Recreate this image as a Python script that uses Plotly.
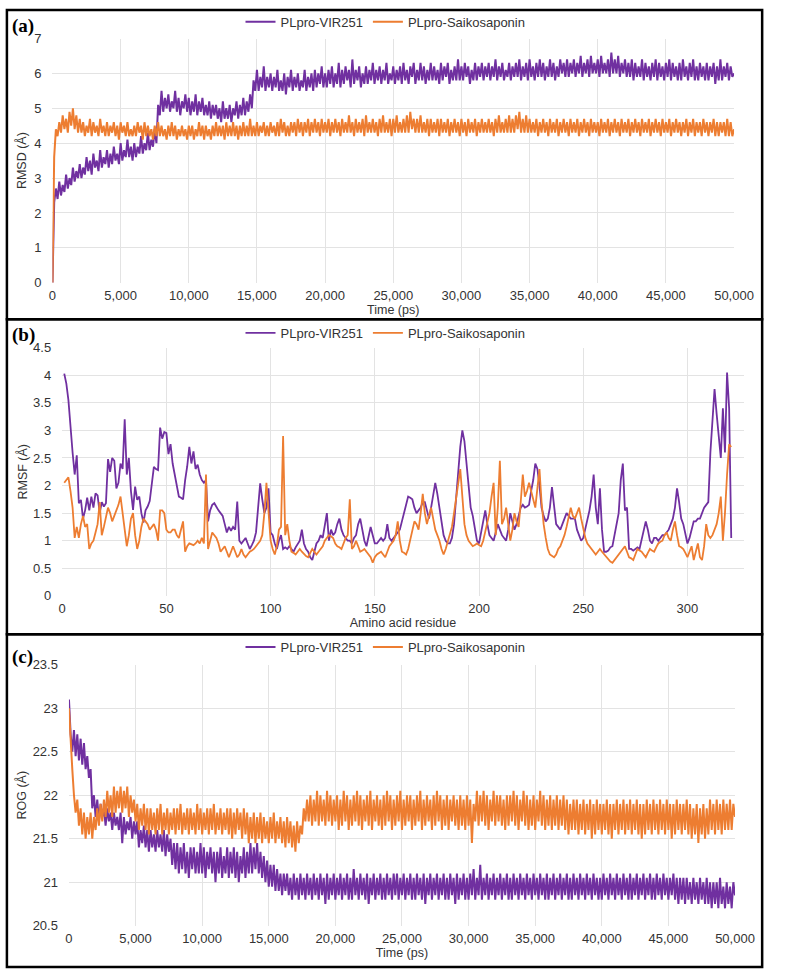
import plotly.graph_objects as go

PURPLE = "#7030A0"
ORANGE = "#ED7D31"

# ---------------- data ----------------
time_ps = list(range(0, 50001, 125))

rmsd_vir251 = [
    0, 2.3, 2.7, 2.4, 2.9, 2.5, 2.8, 2.6, 3.1, 2.7, 3.0, 2.8, 3.3, 2.9, 3.2, 3.0,
    3.4, 3.0, 3.3, 3.1, 3.6, 3.2, 3.5, 3.1, 3.7, 3.3, 3.5, 3.2, 3.8, 3.3, 3.6, 3.4,
    3.8, 3.3, 3.7, 3.4, 3.9, 3.5, 3.7, 3.4, 4.0, 3.5, 3.8, 3.6, 4.1, 3.6, 3.9, 3.5,
    4.0, 3.6, 3.9, 3.7, 4.2, 3.7, 4.0, 3.8, 4.3, 3.8, 4.1, 3.9, 4.4, 4.0, 5.1, 4.8,
    5.5, 4.9, 5.3, 5.0, 5.4, 4.9, 5.2, 5.0, 5.5, 4.9, 5.3, 4.8, 5.2, 5.0, 5.4, 4.9,
    5.3, 4.8, 5.2, 4.9, 5.4, 4.8, 5.2, 4.9, 5.3, 4.8, 5.1, 4.8, 5.2, 4.7, 5.1, 4.8,
    5.1, 4.7, 5.0, 4.6, 5.2, 4.7, 5.0, 4.7, 5.1, 4.6, 5.0, 4.8, 5.2, 4.7, 5.1, 4.8,
    5.3, 4.8, 5.2, 4.9, 5.4, 5.0, 5.8, 5.5, 6.1, 5.5, 5.9, 5.6, 6.2, 5.5, 5.9, 5.6,
    6.0, 5.5, 5.9, 5.6, 6.1, 5.5, 5.8, 5.5, 6.0, 5.4, 5.9, 5.6, 6.1, 5.5, 5.9, 5.6,
    6.0, 5.5, 5.8, 5.6, 6.1, 5.5, 5.9, 5.6, 6.0, 5.5, 6.1, 5.6, 6.0, 5.7, 6.2, 5.6,
    6.0, 5.6, 6.1, 5.7, 6.2, 5.6, 6.0, 5.7, 6.3, 5.6, 6.1, 5.7, 6.2, 5.8, 6.1, 5.6,
    6.4, 5.7, 6.1, 5.8, 6.2, 5.6, 6.0, 5.7, 6.2, 5.7, 6.1, 5.8, 6.3, 5.7, 6.1, 5.8,
    6.2, 5.7, 6.1, 5.8, 6.3, 5.7, 6.0, 5.8, 6.2, 5.7, 6.1, 5.8, 6.2, 5.7, 6.3, 5.8,
    6.1, 5.7, 6.2, 5.9, 6.3, 5.7, 6.1, 5.8, 6.3, 5.8, 6.2, 5.7, 6.1, 5.8, 6.3, 5.8,
    6.2, 5.8, 6.1, 5.7, 6.3, 5.8, 6.2, 5.9, 6.3, 5.7, 6.1, 5.8, 6.2, 5.8, 6.4, 5.8,
    6.2, 5.8, 6.3, 5.9, 6.2, 5.7, 6.1, 5.8, 6.3, 5.8, 6.2, 5.9, 6.3, 5.8, 6.2, 5.9,
    6.3, 5.8, 6.2, 5.9, 6.4, 5.8, 6.2, 5.9, 6.3, 5.8, 6.1, 5.9, 6.3, 5.8, 6.2, 5.9,
    6.3, 5.9, 6.4, 5.8, 6.2, 5.9, 6.3, 5.8, 6.4, 5.9, 6.2, 5.8, 6.3, 5.9, 6.4, 5.9,
    6.3, 5.8, 6.2, 5.9, 6.4, 5.9, 6.3, 5.8, 6.2, 5.9, 6.4, 6.0, 6.3, 5.9, 6.4, 5.9,
    6.3, 6.0, 6.4, 5.9, 6.3, 6.0, 6.5, 5.9, 6.3, 6.0, 6.4, 5.9, 6.5, 6.0, 6.3, 6.0,
    6.4, 5.9, 6.5, 6.0, 6.3, 6.0, 6.4, 5.9, 6.6, 6.0, 6.4, 6.0, 6.5, 5.9, 6.3, 6.0,
    6.4, 5.9, 6.3, 5.9, 6.4, 5.8, 6.3, 5.9, 6.2, 5.9, 6.4, 5.8, 6.3, 5.9, 6.2, 5.8,
    6.3, 5.9, 6.4, 5.8, 6.3, 5.9, 6.2, 5.8, 6.3, 5.9, 6.4, 5.8, 6.3, 5.9, 6.2, 5.8,
    6.3, 5.8, 6.4, 5.9, 6.2, 5.8, 6.3, 5.9, 6.4, 5.8, 6.2, 5.8, 6.3, 5.9, 6.2, 5.8,
    6.3, 5.8, 6.2, 5.9, 6.3, 5.7, 6.2, 5.8, 6.4, 5.8, 6.2, 5.9, 6.3, 5.8, 6.2, 5.9,
    6.0,
]

rmsd_saiko = [
    0, 3.6, 4.4, 4.2, 4.6, 4.3, 4.8, 4.4, 4.7, 4.3, 4.9, 4.5, 5.0, 4.4, 4.8, 4.3,
    4.7, 4.3, 4.6, 4.2, 4.5, 4.3, 4.7, 4.2, 4.6, 4.3, 4.5, 4.2, 4.7, 4.3, 4.5, 4.2,
    4.6, 4.2, 4.5, 4.3, 4.6, 4.2, 4.5, 4.1, 4.6, 4.3, 4.5, 4.2, 4.6, 4.2, 4.4, 4.2,
    4.5, 4.2, 4.6, 4.3, 4.5, 4.1, 4.6, 4.2, 4.5, 4.2, 4.4, 4.1, 4.5, 4.2, 4.6, 4.2,
    4.5, 4.2, 4.4, 4.1, 4.5, 4.2, 4.6, 4.2, 4.5, 4.1, 4.4, 4.2, 4.5, 4.2, 4.4, 4.1,
    4.5, 4.2, 4.5, 4.1, 4.4, 4.2, 4.6, 4.2, 4.5, 4.1, 4.5, 4.2, 4.4, 4.1, 4.5, 4.2,
    4.6, 4.2, 4.5, 4.2, 4.5, 4.1, 4.6, 4.2, 4.5, 4.2, 4.6, 4.2, 4.5, 4.1, 4.5, 4.2,
    4.6, 4.2, 4.5, 4.2, 4.7, 4.2, 4.5, 4.2, 4.6, 4.2, 4.5, 4.3, 4.6, 4.2, 4.5, 4.2,
    4.6, 4.3, 4.5, 4.2, 4.6, 4.2, 4.7, 4.3, 4.6, 4.2, 4.5, 4.2, 4.6, 4.3, 4.6, 4.2,
    4.7, 4.3, 4.6, 4.2, 4.6, 4.3, 4.7, 4.2, 4.6, 4.3, 4.7, 4.3, 4.6, 4.2, 4.7, 4.3,
    4.6, 4.3, 4.7, 4.2, 4.6, 4.3, 4.7, 4.3, 4.6, 4.2, 4.7, 4.3, 4.6, 4.3, 4.8, 4.3,
    4.6, 4.2, 4.7, 4.3, 4.6, 4.3, 4.7, 4.2, 4.8, 4.3, 4.6, 4.3, 4.7, 4.3, 4.6, 4.2,
    4.7, 4.3, 4.8, 4.3, 4.6, 4.3, 4.7, 4.2, 4.7, 4.3, 4.8, 4.3, 4.6, 4.3, 4.7, 4.3,
    4.8, 4.3, 4.9, 4.4, 4.7, 4.3, 4.7, 4.3, 4.8, 4.3, 4.6, 4.3, 4.7, 4.2, 4.7, 4.3,
    4.6, 4.3, 4.7, 4.2, 4.7, 4.3, 4.6, 4.3, 4.7, 4.2, 4.6, 4.3, 4.7, 4.3, 4.6, 4.2,
    4.7, 4.3, 4.6, 4.2, 4.7, 4.3, 4.6, 4.3, 4.7, 4.2, 4.6, 4.3, 4.7, 4.3, 4.6, 4.3,
    4.7, 4.3, 4.6, 4.2, 4.7, 4.3, 4.8, 4.3, 4.6, 4.3, 4.7, 4.3, 4.8, 4.3, 4.7, 4.3,
    4.8, 4.4, 4.9, 4.3, 4.7, 4.3, 4.8, 4.3, 4.7, 4.3, 4.6, 4.3, 4.7, 4.2, 4.6, 4.3,
    4.7, 4.3, 4.6, 4.2, 4.7, 4.3, 4.6, 4.3, 4.7, 4.2, 4.6, 4.3, 4.7, 4.3, 4.6, 4.2,
    4.7, 4.3, 4.6, 4.3, 4.7, 4.2, 4.6, 4.3, 4.7, 4.3, 4.6, 4.2, 4.7, 4.3, 4.6, 4.3,
    4.6, 4.2, 4.7, 4.3, 4.6, 4.3, 4.7, 4.2, 4.6, 4.3, 4.7, 4.3, 4.6, 4.2, 4.7, 4.3,
    4.6, 4.3, 4.7, 4.2, 4.6, 4.3, 4.7, 4.3, 4.6, 4.2, 4.7, 4.3, 4.6, 4.3, 4.7, 4.2,
    4.6, 4.3, 4.7, 4.3, 4.6, 4.2, 4.7, 4.3, 4.6, 4.3, 4.7, 4.2, 4.6, 4.3, 4.7, 4.3,
    4.6, 4.2, 4.6, 4.3, 4.7, 4.2, 4.6, 4.3, 4.7, 4.2, 4.6, 4.3, 4.6, 4.2, 4.7, 4.3,
    4.6, 4.2, 4.6, 4.3, 4.7, 4.2, 4.6, 4.2, 4.6, 4.3, 4.6, 4.2, 4.7, 4.2, 4.6, 4.2,
    4.4,
]

residue = list(range(1, 322))

rmsf_vir251 = [
    4.03, 3.85, 3.55, 3.0, 2.6, 2.2, 2.55, 1.68, 1.74, 1.4,
    1.55, 1.78, 1.55, 1.8, 1.6, 1.86, 1.82, 1.5, 1.7, 1.62,
    1.68, 2.48, 2.25, 2.5, 2.45, 1.95, 2.05, 2.4, 2.3, 3.2,
    2.2, 2.5, 1.9, 1.56, 1.98, 1.74, 1.8, 1.5, 1.33, 1.55,
    1.62, 1.72, 2.0, 2.34, 2.3, 2.28, 3.05, 2.85, 2.97, 2.95,
    2.57, 2.75, 2.4, 2.22, 2.0, 1.8, 1.78, 1.75, 2.1, 2.35,
    2.7, 2.4, 2.62, 2.3, 2.38, 2.2, 2.1, 2.05, 2.1, 1.35,
    1.55, 1.65, 1.68, 1.6, 1.55, 1.5, 1.45, 1.3, 1.15, 1.25,
    1.18, 1.25, 1.2, 1.71, 1.0, 0.95, 1.0, 1.05, 0.95, 0.85,
    0.92, 1.0, 1.15, 1.6, 2.04, 1.75, 1.5, 1.6, 1.95, 1.15,
    1.1, 0.95, 0.85, 1.0, 1.1, 0.85, 0.88, 0.85, 0.9, 0.85,
    0.8, 0.88, 0.95, 1.0, 1.2, 0.95, 0.85, 0.8, 0.7, 0.65,
    0.8, 0.95, 1.0, 1.1, 1.05, 1.25, 1.5, 1.0, 1.2, 1.1,
    1.15, 1.3, 1.4, 1.2, 1.1, 1.05, 1.0, 1.0, 0.95, 1.05,
    1.1, 1.3, 1.4, 1.2, 1.0, 0.9, 1.05, 1.25, 1.1, 0.95,
    0.95, 1.0, 1.05, 1.0, 1.05, 1.3, 1.05, 1.0, 1.05, 1.1,
    1.15, 1.2, 1.35, 1.5, 1.7, 1.8, 1.78, 1.75, 1.6, 1.5,
    1.55, 1.6, 1.7, 1.7, 1.55, 1.4, 1.6, 1.8, 2.05, 1.85,
    1.6, 1.3, 1.1, 1.0, 0.95, 0.95, 1.05, 1.3, 1.8, 2.3,
    2.7, 3.0, 2.8, 2.4, 2.0, 1.6, 1.45, 1.2, 1.0, 0.95,
    1.15, 1.4, 1.55, 1.3, 1.1, 1.05, 1.0, 1.15, 1.3, 1.2,
    1.1, 1.05, 1.0, 1.2, 1.5, 1.35, 1.2, 1.3, 1.45, 1.6,
    1.65, 1.6, 1.62, 1.65, 1.9, 2.1, 2.4, 2.3, 2.0, 1.6,
    1.45, 1.35, 1.4, 1.6, 1.97, 1.6, 1.3, 1.25, 1.2, 1.3,
    1.4, 1.5, 1.45, 1.4, 1.4, 1.4, 1.2, 1.1, 1.0, 1.05,
    1.2, 1.35, 1.55, 1.8, 2.2, 1.6, 1.3, 1.95, 1.2, 0.8,
    0.8, 0.82, 0.88, 0.9, 1.1, 1.3, 1.5, 2.1, 2.4, 1.55,
    1.6, 0.85, 0.85, 0.82, 0.85, 0.88, 0.85, 1.0, 1.15, 1.35,
    1.2, 1.0, 0.95, 1.05, 1.05, 1.0, 1.05, 1.1, 1.1, 1.15,
    1.2, 1.3, 1.4, 1.6, 1.95, 1.7, 1.4, 1.3, 1.1, 0.95,
    1.05, 1.2, 1.35, 1.35, 1.4, 1.4, 1.5, 1.6, 1.65, 1.7,
    2.6, 3.2, 3.75, 3.3, 2.9, 2.5, 3.4, 2.6, 4.05, 3.4,
    1.05,
]

rmsf_saiko = [
    2.05, 2.1, 2.15, 1.9, 1.6, 1.05, 1.25, 1.05, 1.3, 1.45,
    1.25, 1.3, 0.85, 0.95, 1.0, 1.15, 1.3, 1.7, 1.1, 1.25,
    1.4, 1.6, 1.5, 1.35, 1.45, 1.55, 1.65, 1.8, 1.5, 1.2,
    0.9, 1.1, 1.4, 1.5, 1.1, 0.85, 1.0, 1.25, 1.4, 1.35,
    1.3, 1.2, 1.25, 1.3, 1.2, 1.0, 1.55, 1.55, 1.5, 1.2,
    1.15, 1.15, 1.2, 1.2, 1.1, 1.05, 1.2, 1.35, 0.8, 0.9,
    0.95, 0.93, 0.92, 0.95, 1.0, 0.95, 1.05, 0.95, 2.2, 0.85,
    1.0, 1.15, 1.1, 1.05, 0.95, 0.8, 0.85, 0.9, 0.8, 0.7,
    0.8, 0.9, 0.8, 0.7, 0.75, 0.85, 0.75, 0.7, 0.75, 0.8,
    0.82, 0.85, 0.9, 0.95, 1.0, 1.1, 1.5, 2.05, 1.5, 1.0,
    0.85, 0.75, 0.9, 1.2, 1.25, 2.9, 1.1, 1.3, 1.0, 0.8,
    0.78, 0.75, 0.8, 0.85, 0.8, 0.75, 0.72, 0.7, 0.78, 0.85,
    0.8, 0.75, 0.8, 0.85, 0.9, 1.0, 1.05, 1.1, 1.08, 1.05,
    0.95, 0.9, 0.88, 0.85, 0.95, 1.05, 1.1, 1.75, 0.85, 0.9,
    1.0, 0.9, 0.8, 0.82, 0.85, 0.8, 0.75, 0.7, 0.6, 0.7,
    0.75, 0.78, 0.8, 0.75, 0.7, 0.8, 0.9, 0.95, 1.0, 1.1,
    1.35, 1.0, 0.8, 0.78, 0.75, 0.85, 1.0, 1.2, 1.35, 1.3,
    1.2, 1.5, 1.85, 1.5, 1.3, 1.45, 1.6, 1.4, 1.2, 1.1,
    1.0, 0.85, 0.75, 0.85, 1.0, 1.1, 1.25, 1.5, 1.8, 2.1,
    2.3, 1.8, 1.3, 1.1, 1.0, 0.95, 0.9, 0.92, 0.95, 0.92,
    0.9, 1.0, 1.15, 1.3, 1.5, 1.8, 2.05, 1.1, 1.6, 2.45,
    1.3, 1.4, 1.6, 1.3, 1.0, 1.2, 1.5, 1.35, 1.25, 1.7,
    2.2, 1.8, 1.9, 2.05, 1.9, 1.75, 1.6, 1.95, 2.3, 1.7,
    1.3, 1.05, 0.85, 0.75, 0.72, 0.7, 0.75, 0.85, 0.9, 1.0,
    1.1, 1.25, 1.4, 1.6, 1.45, 1.4, 1.5, 1.6, 1.4, 1.2,
    1.05, 0.95, 0.9, 0.85, 0.8, 0.75, 0.8, 0.85, 0.8, 0.75,
    0.7, 0.65, 0.62, 0.6, 0.65, 0.7, 0.75, 0.8, 0.85, 0.9,
    0.8, 0.7, 0.68, 0.65, 0.75, 0.85, 0.82, 0.8, 0.75, 0.7,
    0.78, 0.85, 0.82, 0.8, 0.88, 0.95, 0.98, 1.0, 1.1, 1.15,
    1.05, 1.0, 1.2, 1.35, 1.1, 0.9, 0.88, 0.85, 0.78, 0.7,
    0.8, 0.9, 0.65, 0.8, 0.95, 0.7, 0.65, 0.9, 1.3, 1.1,
    1.05, 1.1, 1.2, 1.3, 1.5, 1.8, 1.0, 1.5, 2.2, 2.75,
    2.7,
]

rog_vir251 = [
    23.1, 22.7, 22.5, 22.75, 22.45, 22.7, 22.4, 22.65, 22.35, 22.6, 22.3, 22.45, 22.2, 22.3, 21.85, 22.0,
    21.75, 21.95, 21.7, 21.9, 21.75, 21.85, 21.65, 21.85, 21.7, 21.8, 21.6, 21.8, 21.65, 21.75, 21.6, 21.8,
    21.45, 21.75, 21.55, 21.7, 21.6, 21.75, 21.5, 21.7, 21.55, 21.7, 21.4, 21.6, 21.45, 21.65, 21.4, 21.6,
    21.35, 21.6, 21.4, 21.55, 21.35, 21.6, 21.4, 21.55, 21.35, 21.6, 21.3, 21.55, 21.35, 21.5, 21.2, 21.45,
    21.15, 21.45, 21.1, 21.4, 21.15, 21.45, 21.1, 21.35, 21.05, 21.4, 21.15, 21.4, 21.1, 21.35, 21.1, 21.45,
    21.1, 21.4, 21.05, 21.35, 21.15, 21.4, 21.1, 21.35, 21.0, 21.35, 21.1, 21.4, 21.05, 21.3, 21.1, 21.4,
    21.05, 21.35, 21.1, 21.4, 21.05, 21.35, 21.0, 21.3, 21.1, 21.4, 21.05, 21.35, 21.1, 21.45, 21.1, 21.4,
    21.15, 21.45, 21.1, 21.35, 21.05, 21.3, 21.0, 21.25, 20.95, 21.2, 20.95, 21.2, 20.9, 21.15, 20.9, 21.1,
    20.85, 21.1, 20.9, 21.1, 20.85, 21.05, 20.8, 21.1, 20.85, 21.05, 20.8, 21.1, 20.85, 21.05, 20.8, 21.1,
    20.85, 21.05, 20.8, 21.1, 20.85, 21.05, 20.8, 21.1, 20.85, 21.05, 20.75, 21.1, 20.8, 21.05, 20.85, 21.1,
    20.8, 21.05, 20.85, 21.1, 20.8, 21.05, 20.85, 21.1, 20.8, 21.05, 20.8, 21.15, 20.85, 21.05, 20.8, 21.1,
    20.85, 21.05, 20.8, 21.1, 20.75, 21.05, 20.85, 21.1, 20.8, 21.05, 20.85, 21.1, 20.8, 21.05, 20.8, 21.1,
    20.85, 21.05, 20.8, 21.1, 20.85, 21.1, 20.8, 21.05, 20.85, 21.1, 20.8, 21.05, 20.85, 21.1, 20.8, 21.05,
    20.8, 21.1, 20.85, 21.05, 20.8, 21.1, 20.75, 21.05, 20.85, 21.1, 20.8, 21.05, 20.85, 21.1, 20.8, 21.05,
    20.85, 21.1, 20.8, 21.05, 20.8, 21.1, 20.85, 21.05, 20.75, 21.1, 20.8, 21.05, 20.85, 21.1, 20.8, 21.05,
    20.8, 21.1, 20.85, 21.15, 20.8, 21.05, 20.85, 21.2, 20.8, 21.05, 20.85, 21.1, 20.8, 21.05, 20.85, 21.1,
    20.8, 21.05, 20.85, 21.1, 20.8, 21.05, 20.85, 21.1, 20.8, 21.05, 20.8, 21.1, 20.85, 21.05, 20.8, 21.1,
    20.85, 21.05, 20.8, 21.1, 20.85, 21.05, 20.8, 21.1, 20.85, 21.05, 20.8, 21.1, 20.85, 21.05, 20.8, 21.1,
    20.8, 21.05, 20.85, 21.1, 20.8, 21.05, 20.85, 21.1, 20.8, 21.05, 20.85, 21.1, 20.8, 21.05, 20.8, 21.1,
    20.85, 21.05, 20.8, 21.1, 20.85, 21.05, 20.8, 21.1, 20.85, 21.05, 20.8, 21.1, 20.85, 21.05, 20.8, 21.05,
    20.8, 21.1, 20.85, 21.05, 20.8, 21.1, 20.85, 21.05, 20.8, 21.1, 20.85, 21.05, 20.8, 21.1, 20.85, 21.05,
    20.8, 21.1, 20.8, 21.05, 20.85, 21.1, 20.8, 21.05, 20.85, 21.1, 20.8, 21.05, 20.85, 21.1, 20.8, 21.05,
    20.8, 21.1, 20.85, 21.05, 20.8, 21.1, 20.85, 21.05, 20.8, 21.05, 20.85, 21.1, 20.8, 21.05, 20.75, 21.05,
    20.8, 21.05, 20.75, 21.05, 20.8, 21.0, 20.75, 21.05, 20.8, 21.0, 20.75, 21.05, 20.8, 21.0, 20.75, 21.05,
    20.75, 21.0, 20.7, 21.0, 20.75, 21.0, 20.7, 21.05, 20.75, 20.95, 20.7, 21.0, 20.75, 20.95, 20.7, 21.0,
    20.85,
]

rog_saiko = [
    23.0, 22.6, 22.3, 22.0, 21.8, 21.95, 21.65, 21.85, 21.55, 21.8, 21.5, 21.75, 21.55, 21.8, 21.5, 21.75,
    21.6, 21.85, 21.65, 21.9, 21.7, 21.95, 21.75, 22.05, 21.8, 22.0, 21.75, 22.1, 21.8, 22.05, 21.85, 22.1,
    21.8, 22.05, 21.85, 22.1, 21.75, 22.0, 21.8, 21.95, 21.7, 21.9, 21.6, 21.85, 21.65, 21.9, 21.6, 21.85,
    21.55, 21.85, 21.6, 21.8, 21.55, 21.85, 21.6, 21.9, 21.55, 21.8, 21.6, 21.85, 21.55, 21.8, 21.6, 21.85,
    21.55, 21.85, 21.6, 21.9, 21.55, 21.8, 21.6, 21.85, 21.55, 21.85, 21.6, 21.8, 21.55, 21.9, 21.6, 21.85,
    21.55, 21.8, 21.6, 21.85, 21.55, 21.85, 21.6, 21.9, 21.55, 21.8, 21.6, 21.85, 21.55, 21.8, 21.6, 21.85,
    21.55, 21.85, 21.5, 21.8, 21.55, 21.85, 21.6, 21.8, 21.5, 21.85, 21.55, 21.8, 21.45, 21.75, 21.5, 21.8,
    21.45, 21.75, 21.5, 21.8, 21.45, 21.75, 21.5, 21.7, 21.45, 21.75, 21.5, 21.8, 21.45, 21.7, 21.5, 21.75,
    21.45, 21.7, 21.4, 21.75, 21.45, 21.7, 21.4, 21.65, 21.35, 21.7, 21.45, 21.65, 21.55, 21.85, 21.7, 21.95,
    21.7, 22.0, 21.65, 21.95, 21.7, 22.05, 21.65, 22.0, 21.7, 21.95, 21.65, 22.05, 21.7, 22.0, 21.65, 21.95,
    21.7, 22.0, 21.6, 21.95, 21.65, 22.05, 21.7, 22.0, 21.6, 21.95, 21.65, 22.0, 21.7, 22.05, 21.65, 22.0,
    21.6, 21.95, 21.7, 22.0, 21.65, 22.05, 21.6, 21.95, 21.7, 22.0, 21.65, 21.95, 21.6, 22.0, 21.65, 22.05,
    21.7, 22.0, 21.6, 21.95, 21.65, 22.0, 21.7, 22.05, 21.6, 21.95, 21.65, 22.0, 21.7, 22.0, 21.6, 21.95,
    21.65, 22.0, 21.7, 22.05, 21.6, 21.95, 21.65, 22.0, 21.7, 21.95, 21.6, 22.0, 21.65, 22.05, 21.7, 22.0,
    21.6, 21.95, 21.65, 22.0, 21.6, 21.95, 21.7, 22.0, 21.65, 21.95, 21.6, 22.0, 21.65, 21.95, 21.6, 22.0,
    21.65, 21.95, 21.45, 21.9, 21.7, 22.05, 21.65, 22.0, 21.7, 22.05, 21.65, 22.0, 21.6, 21.95, 21.7, 22.05,
    21.65, 22.0, 21.7, 22.0, 21.65, 21.95, 21.6, 22.0, 21.65, 22.0, 21.7, 22.05, 21.65, 22.0, 21.6, 21.95,
    21.7, 22.05, 21.65, 22.0, 21.6, 21.95, 21.65, 22.0, 21.6, 21.95, 21.7, 22.05, 21.65, 22.0, 21.6, 21.95,
    21.65, 22.0, 21.6, 21.95, 21.65, 22.0, 21.6, 21.95, 21.65, 22.0, 21.6, 21.95, 21.55, 21.9, 21.6, 21.95,
    21.6, 21.95, 21.55, 21.9, 21.6, 21.95, 21.55, 21.9, 21.6, 21.95, 21.5, 21.9, 21.55, 21.95, 21.6, 21.9,
    21.55, 21.9, 21.6, 21.95, 21.55, 21.9, 21.5, 21.9, 21.6, 21.95, 21.55, 21.9, 21.6, 21.95, 21.55, 21.9,
    21.6, 21.95, 21.55, 21.9, 21.6, 21.95, 21.55, 21.9, 21.5, 21.9, 21.55, 21.95, 21.6, 21.9, 21.55, 21.95,
    21.6, 21.9, 21.55, 21.95, 21.6, 21.9, 21.55, 21.95, 21.6, 21.9, 21.5, 21.9, 21.55, 21.95, 21.6, 21.9,
    21.55, 21.9, 21.6, 21.95, 21.55, 21.9, 21.5, 21.85, 21.55, 21.9, 21.45, 21.85, 21.55, 21.9, 21.5, 21.85,
    21.55, 21.95, 21.6, 21.9, 21.55, 21.95, 21.6, 21.9, 21.55, 21.95, 21.6, 21.9, 21.6, 21.95, 21.6, 21.9,
    21.75,
]

series_names = ["PLpro-VIR251", "PLpro-Saikosaponin"]
panel_labels = ["(a)", "(b)", "(c)"]

# ---------------- figure ----------------
W, H = 787, 979
fig = go.Figure()

def px_x(p):
    return p / W

def px_y(p):
    return 1 - p / H

ts_width = 2.0
fig.add_trace(go.Scatter(x=time_ps, y=rmsd_vir251, mode="lines", name=series_names[0],
                         line=dict(color=PURPLE, width=ts_width), xaxis="x", yaxis="y", legend="legend"))
fig.add_trace(go.Scatter(x=time_ps, y=rmsd_saiko, mode="lines", name=series_names[1],
                         line=dict(color=ORANGE, width=ts_width), xaxis="x", yaxis="y", legend="legend"))
fig.add_trace(go.Scatter(x=residue, y=rmsf_vir251, mode="lines", name=series_names[0],
                         line=dict(color=PURPLE, width=1.8), xaxis="x2", yaxis="y2", legend="legend2"))
fig.add_trace(go.Scatter(x=residue, y=rmsf_saiko, mode="lines", name=series_names[1],
                         line=dict(color=ORANGE, width=1.8), xaxis="x2", yaxis="y2", legend="legend2"))
fig.add_trace(go.Scatter(x=time_ps, y=rog_vir251, mode="lines", name=series_names[0],
                         line=dict(color=PURPLE, width=ts_width), xaxis="x3", yaxis="y3", legend="legend3"))
fig.add_trace(go.Scatter(x=time_ps, y=rog_saiko, mode="lines", name=series_names[1],
                         line=dict(color=ORANGE, width=ts_width), xaxis="x3", yaxis="y3", legend="legend3"))

FONT = "Liberation Sans, Arial, sans-serif"
TICKFONT = dict(family=FONT, size=13, color="#333333")
TITLEFONT = dict(family=FONT, size=12.5, color="#333333")
GRID = "#e3e3e3"

def xax(domain, anchor, rng, dtick, fmt, title):
    return dict(domain=domain, anchor=anchor, range=rng, dtick=dtick, tick0=0,
                tickformat=fmt, showgrid=True, gridcolor=GRID, gridwidth=1,
                zeroline=False, showline=False, ticks="", tickfont=TICKFONT,
                ticklabelstandoff=3,
                title=dict(text=title, font=TITLEFONT, standoff=1), fixedrange=True)

def yax(domain, anchor, rng, dtick, title, standoff):
    return dict(domain=domain, anchor=anchor, range=rng, dtick=dtick,
                showgrid=True, gridcolor=GRID, gridwidth=1,
                zeroline=False, showline=False, ticks="", tickfont=TICKFONT,
                ticklabelstandoff=10,
                title=dict(text=title, font=TITLEFONT, standoff=standoff), fixedrange=True)

legend_common = dict(orientation="h", xanchor="center", yanchor="middle",
                     font=dict(family=FONT, size=13, color="#333333"),
                     bgcolor="rgba(0,0,0,0)", itemwidth=30, tracegroupgap=0)

fig.update_layout(
    width=W, height=H,
    margin=dict(l=0, r=0, t=0, b=0),
    paper_bgcolor="white", plot_bgcolor="white",
    showlegend=True,
    xaxis=xax([px_x(50), px_x(753)], "y", [0, 50000], 5000, ",", "Time (ps)"),
    yaxis=yax([px_y(280), px_y(32)], "x", [0, 7], 1, "RMSD (Å)", 4),
    xaxis2=xax([px_x(60), px_x(763)], "y2", [0, 327], 50, "", "Amino acid residue"),
    yaxis2=yax([px_y(598), px_y(346)], "x2", [0, 4.5], 0.5, "RMSF (Å)", 2),
    xaxis3=xax([px_x(67), px_x(754)], "y3", [0, 50000], 5000, ",", "Time (ps)"),
    yaxis3=yax([px_y(933), px_y(668)], "x3", [20.5, 23.5], 0.5, "ROG (Å)", 3),
    legend=dict(x=0.5, y=px_y(15), **legend_common),
    legend2=dict(x=0.5, y=px_y(331), **legend_common),
    legend3=dict(x=0.5, y=px_y(650), **legend_common),
)

# panel borders
for top, bottom in [(3, 317), (317, 637), (637, 975)]:
    fig.add_shape(type="rect", xref="paper", yref="paper",
                  x0=px_x(3), x1=px_x(782), y0=px_y(bottom), y1=px_y(top),
                  line=dict(color="black", width=2.5), fillcolor="rgba(0,0,0,0)", layer="above")

# panel labels
for lab, ypos in zip(panel_labels, [19, 333, 660]):
    fig.add_annotation(text="<b>" + lab + "</b>", xref="paper", yref="paper", x=px_x(6), y=px_y(ypos),
                       xanchor="left", yanchor="middle", showarrow=False,
                       font=dict(family="Liberation Serif, Times New Roman, serif", size=19, color="black"))

fig.write_html("out.html",
               config={"displayModeBar": False},
               post_script="document.body.style.margin='0px';document.body.style.overflow='hidden';")
